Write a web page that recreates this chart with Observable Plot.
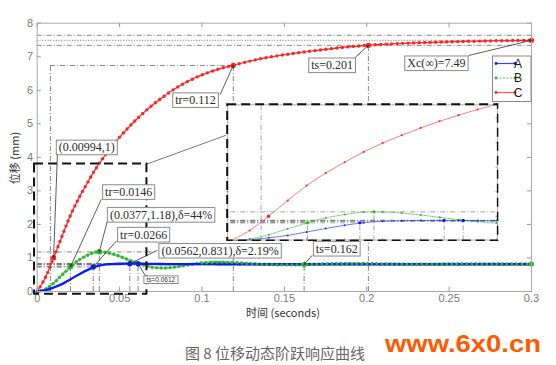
<!DOCTYPE html>
<html><head><meta charset="utf-8">
<script src="https://cdn.jsdelivr.net/npm/d3@7"></script>
<script src="https://cdn.jsdelivr.net/npm/@observablehq/plot@0.6"></script>
<style>
body{margin:0;background:#fff;}
</style></head><body><div id="wrap"></div>
<script>
// ---------- data ----------
const tGrid = [0,0.005,0.01,0.015,0.02,0.025,0.03,0.035,0.04,0.045,0.05,0.055,0.06,0.065,0.07,0.075,0.08,0.085,0.09,0.095,0.1,
  0.11,0.12,0.13,0.14,0.15,0.16,0.17,0.18,0.19,0.2,0.21,0.22,0.23,0.24,0.25,0.26,0.27,0.28,0.29,0.3];
const seriesA = [0,0.04,0.12,0.22,0.36,0.5,0.63,0.735,0.795,0.818,0.828,0.831,0.83,0.827,0.823,0.82,0.818,0.816,0.815,0.814,0.814,
  0.813,0.813,0.813,0.813,0.813,0.813,0.813,0.813,0.813,0.813,0.813,0.813,0.813,0.813,0.813,0.813,0.813,0.813,0.813,0.813];
const seriesB = [0,0.07,0.25,0.49,0.72,0.93,1.07,1.17,1.175,1.13,1.05,0.955,0.86,0.78,0.72,0.70,0.71,0.74,0.78,0.82,0.85,
  0.873,0.86,0.83,0.805,0.797,0.802,0.815,0.826,0.83,0.828,0.822,0.817,0.815,0.816,0.819,0.822,0.823,0.822,0.82,0.82];
const seriesC = [0,0.42,1.01,1.64,2.25,2.76,3.2,3.62,3.98,4.3,4.6,4.87,5.12,5.35,5.56,5.75,5.93,6.09,6.23,6.35,6.46,
  6.63,6.76,6.88,6.98,7.06,7.13,7.19,7.25,7.3,7.34,7.37,7.395,7.415,7.43,7.445,7.458,7.468,7.476,7.483,7.49];
const seriesNames = ["A","B","C"];
const seriesColors = {A:"#0a1aff", B:"#2fb52f", C:"#ff2222"};
const xTicks = [0,0.05,0.1,0.15,0.2,0.25,0.3];
const yTicks = [0,1,2,3,4,5,6,7,8];
const insetXTicks = [0.01,0.02,0.03,0.04,0.05,0.06,0.07];
const insetYTicks = [1,2,3,4,5];

// annotated points
const keyPoints = [
  {s:"C",t:0.00994,v:1},{s:"C",t:0.119,v:6.74},{s:"C",t:0.201,v:7.34},{s:"C",t:0.3,v:7.49},
  {s:"B",t:0.0202,v:0.738},{s:"B",t:0.0377,v:1.18},{s:"B",t:0.162,v:0.804},{s:"B",t:0.3,v:0.82},
  {s:"A",t:0.034,v:0.732},{s:"A",t:0.0562,v:0.831},{s:"A",t:0.0612,v:0.829}
];
// reference lines (dash-dot)
const hRefs = [
  {y:7.64,x1:0,x2:0.3,k:"dd"},{y:7.49,x1:0,x2:0.3,k:"dot"},{y:7.34,x1:0,x2:0.3,k:"dd"},
  {y:6.74,x1:0.008,x2:0.119,k:"dd"},
  {y:1.18,x1:0,x2:0.07,k:"dd"},
  {y:0.836,x1:0,x2:0.3,k:"dd"},{y:0.829,x1:0,x2:0.3,k:"dd"},{y:0.803,x1:0,x2:0.3,k:"dd"},{y:0.797,x1:0,x2:0.3,k:"dd"},
  {y:0.738,x1:0,x2:0.0202,k:"dd"},{y:0.732,x1:0,x2:0.034,k:"dd"}
];
const vRefs = [
  {x:0.008,y1:0,y2:6.74},{x:0.119,y1:0,y2:6.74},{x:0.201,y1:0,y2:7.34},
  {x:0.0056,y1:0,y2:0.082},{x:0.0074,y1:0,y2:0.081},
  {x:0.0202,y1:0,y2:0.738},{x:0.034,y1:0,y2:0.732},{x:0.0377,y1:0,y2:1.18},
  {x:0.0562,y1:0,y2:0.831},{x:0.0612,y1:0,y2:0.829},{x:0.162,y1:0,y2:0.804}
];
// text annotations: label centre (x,y), arrow start (sx,sy), arrow target (tx,ty)
const labels = [
  {text:"tr=0.112", x:0.0961, y:5.70, sx:0.1111, sy:5.88, tx:0.119, ty:6.74},
  {text:"ts=0.201", x:0.179, y:6.74, sx:0.193, sy:6.98, tx:0.201, ty:7.34},
  {text:"Xc(\u221e)=7.49", x:0.2423, y:6.80, sx:0.2622, sy:7.04, tx:0.3, ty:7.49},
  {text:"(0.00994,1)", x:0.0301, y:4.29, sx:0.0123, sy:4.13, tx:0.00994, ty:1},
  {text:"tr=0.0146", x:0.0555, y:2.96, sx:0.0388, sy:2.74, tx:0.0202, ty:0.738},
  {text:"(0.0377,1.18),\u03b4=44%", x:0.0752, y:2.28, sx:0.0424, sy:2.07, tx:0.0377, ty:1.18},
  {text:"tr=0.0266", x:0.0646, y:1.69, sx:0.048, sy:1.50, tx:0.034, ty:0.732},
  {text:"(0.0562,0.831),\u03b4=2.19%", x:0.111, y:1.21, sx:0.0727, sy:1.22, tx:0.0562, ty:0.831},
  {text:"ts=0.162", x:0.1818, y:1.27, sx:0.1667, sy:1.07, tx:0.162, ty:0.804}
];
const smallLabels = [
  {text:"ts=0.0612", x:0.075, y:0.34, sx:0.0656, sy:0.48, tx:0.0612, ty:0.829}
];
const zoomRegion = {x1:-0.0016, x2:0.0666, y1:-0.08, y2:3.8};
const insetPlace = {x1:0.1147, x2:0.2802, y1:1.49, y2:5.61};
const connector = {x1:0.0666, y1:3.8, x2:0.1147, y2:4.66};
const insetXDomain = [-0.0012, 0.0706];
const insetYDomain = [-0.03, 5.6];

// ---------- build ----------
const rows = arr => tGrid.map((t,i)=>({t, v: arr[i]}));
const data = {A: rows(seriesA), B: rows(seriesB), C: rows(seriesC)};
const grey = "#7a7a7a";

function refMarks(sw){
  return [
    Plot.ruleY(hRefs.filter(d=>d.k==="dd"), {y:"y", x1:"x1", x2:"x2", stroke:"#6a6a6a", strokeWidth:sw, strokeDasharray:"5,2,1,2"}),
    Plot.ruleY(hRefs.filter(d=>d.k==="dot"), {y:"y", x1:"x1", x2:"x2", stroke:"#6a6a6a", strokeWidth:sw, strokeDasharray:"1.2,1.5"}),
    Plot.ruleX(vRefs, {x:"x", y1:"y1", y2:"y2", stroke:"#6a6a6a", strokeWidth:sw, strokeDasharray:"5,2,1,2"})
  ];
}

const main = Plot.plot({
  width: 556, height: 365,
  marginLeft: 36.7, marginRight: 25, marginTop: 22.7, marginBottom: 74,
  style: {fontFamily: "Liberation Sans", fontSize: "11px", color: grey, background: "white"},
  x: {domain: [0, 0.3], ticks: xTicks, tickSize: 0, tickPadding: 3, tickFormat: d => String(d), label: null},
  y: {domain: [0, 8], ticks: yTicks, tickSize: 0, tickPadding: 4, label: null},
  marks: [
    ...refMarks(0.8),
    // C
    Plot.line(data.C, {x:"t", y:"v", stroke:seriesColors.C, strokeWidth:1.2, curve:"catmull-rom"}),
    Plot.line(data.C, {x:"t", y:"v", stroke:seriesColors.C, strokeWidth:3.4, strokeDasharray:"0,5.5", strokeLinecap:"round", curve:"catmull-rom"}),
    // B
    Plot.line(data.B, {x:"t", y:"v", stroke:"#7fd37f", strokeWidth:2, curve:"catmull-rom"}),
    Plot.line(data.B, {x:"t", y:"v", stroke:seriesColors.B, strokeWidth:3.4, strokeDasharray:"0,4.5", strokeLinecap:"round", curve:"catmull-rom"}),
    // A
    Plot.line(data.A, {x:"t", y:"v", stroke:seriesColors.A, strokeWidth:2.3, curve:"catmull-rom"}),
    Plot.line(data.B.filter(d=>d.t>=0.1), {x:"t", y:"v", stroke:seriesColors.B, strokeWidth:3, strokeDasharray:"0,5", strokeLinecap:"round", curve:"catmull-rom"}),
    // key points
    ...seriesNames.map(s => Plot.dot(keyPoints.filter(d=>d.s===s), {x:"t", y:"v", r:2.6, fill:seriesColors[s], stroke:"none"})),
    // inward ticks
    Plot.ruleX(xTicks, {x:d=>d, y1:0, y2:0.13, stroke:"#999"}),
    Plot.ruleX(xTicks, {x:d=>d, y1:8, y2:7.87, stroke:"#999"}),
    Plot.ruleY(yTicks, {y:d=>d, x1:0, x2:0.0025, stroke:"#999"}),
    Plot.ruleY(yTicks, {y:d=>d, x1:0.3, x2:0.2975, stroke:"#999"}),
    Plot.frame({stroke:"#a8a8a8"}),
    // zoom region & connector
    Plot.link([connector], {x1:"x1", y1:"y1", x2:"x2", y2:"y2", stroke:"#555", strokeWidth:0.8}),
    Plot.rect([zoomRegion], {x1:"x1", x2:"x2", y1:"y1", y2:"y2", fill:"none", stroke:"#111", strokeWidth:2, strokeDasharray:"9,5"}),
    // annotations
    Plot.arrow(labels, {x1:"sx", y1:"sy", x2:"tx", y2:"ty", stroke:"#333", strokeWidth:0.8, headLength:5}),
    Plot.arrow(smallLabels, {x1:"sx", y1:"sy", x2:"tx", y2:"ty", stroke:"#333", strokeWidth:0.8, headLength:5}),
    Plot.text(labels, {x:"x", y:"y", text:"text", fontFamily:"Liberation Serif", fontSize:12, fill:"#2a2a2a"}),
    Plot.text(smallLabels, {x:"x", y:"y", text:"text", fontFamily:"Liberation Sans", fontSize:6.5, fill:"#333"})
  ]
});

document.getElementById("wrap").appendChild(main);
const svg = d3.select(main);
const sx = main.scale("x"), sy = main.scale("y");

// boxes behind annotation texts (same transform as the text)
const annoTexts = new Set([...labels, ...smallLabels].map(d => d.text));
Array.from(main.querySelectorAll("text")).forEach(t => {
  if (!annoTexts.has(t.textContent)) return;
  const b = t.getBBox();
  const r = document.createElementNS("http://www.w3.org/2000/svg","rect");
  r.setAttribute("x", b.x - 2.5); r.setAttribute("y", b.y - 0.3);
  r.setAttribute("width", b.width + 5); r.setAttribute("height", b.height + 0.6);
  const tr = t.getAttribute("transform"); if (tr) r.setAttribute("transform", tr);
  r.setAttribute("fill", "white"); r.setAttribute("stroke", "#8a8a8a"); r.setAttribute("stroke-width", "1");
  t.parentNode.insertBefore(r, t);
});

// ---------- inset ----------
const ix0 = sx.apply(insetPlace.x1), ix1 = sx.apply(insetPlace.x2);
const iy0 = sy.apply(insetPlace.y2), iy1 = sy.apply(insetPlace.y1);
const W = ix1 - ix0, H = iy1 - iy0;
const inset = Plot.plot({
  width: W, height: H, margin: 0,
  x: {domain: insetXDomain, axis: null},
  y: {domain: insetYDomain, axis: null},
  marks: [
    Plot.frame({fill:"white", stroke:"none"}),
    ...refMarks(0.6),
    Plot.line(data.C, {x:"t", y:"v", stroke:"#ff5a5a", strokeWidth:0.8, curve:"catmull-rom"}),
    Plot.dot(data.C, {x:"t", y:"v", r:1.1, fill:"#ff2a2a"}),
    Plot.line(data.B, {x:"t", y:"v", stroke:"#45c045", strokeWidth:0.8, strokeDasharray:"1.5,1.2", curve:"catmull-rom"}),
    Plot.dot(data.B, {x:"t", y:"v", r:1, fill:"#2fb52f"}),
    Plot.line(data.A, {x:"t", y:"v", stroke:"#3040ff", strokeWidth:0.8, strokeDasharray:"2,1", curve:"catmull-rom"}),
    Plot.dot(data.A, {x:"t", y:"v", r:1, fill:"#1a2aff"}),
    ...seriesNames.map(s => Plot.dot(keyPoints.filter(d=>d.s===s), {x:"t", y:"v", r:1.7, fill:seriesColors[s]})),
    Plot.ruleX(insetXTicks, {x:d=>d, y1:insetYDomain[0], y2:insetYDomain[0]+0.12, stroke:"#aaa"}),
    Plot.ruleX(insetXTicks, {x:d=>d, y1:insetYDomain[1], y2:insetYDomain[1]-0.12, stroke:"#aaa"}),
    Plot.ruleY(insetYTicks, {y:d=>d, x1:insetXDomain[0], x2:insetXDomain[0]+0.0008, stroke:"#aaa"}),
    Plot.ruleY(insetYTicks, {y:d=>d, x1:insetXDomain[1], x2:insetXDomain[1]-0.0008, stroke:"#aaa"}),
    Plot.frame({stroke:"#b0b0b0", inset:1.5}),
    Plot.frame({stroke:"#111", strokeWidth:2, strokeDasharray:"9,5", inset:1})
  ]
});
inset.setAttribute("x", ix0); inset.setAttribute("y", iy0);
inset.style.width = W + "px"; inset.style.height = H + "px";
inset.style.overflow = "hidden"; inset.style.maxWidth = "none";
main.appendChild(inset);

// ---------- legend ----------
const lg = svg.append("g");
const lx0 = 492.5, ly0 = 56, lw = 38.5, lh = 45.5;
lg.append("rect").attr("x", lx0).attr("y", ly0).attr("width", lw).attr("height", lh)
  .attr("fill","white").attr("stroke","#8a8a8a");
const legStyle = {A:{c:"#3344ff", d:null}, B:{c:"#55c855", d:"2,1.5"}, C:{c:"#ff5555", d:null}};
seriesNames.forEach((s,i) => {
  const yy = ly0 + 7.5 + i*14.5;
  lg.append("line").attr("x1", lx0+3.5).attr("x2", lx0+22.5).attr("y1", yy).attr("y2", yy)
    .attr("stroke", legStyle[s].c).attr("stroke-width", 1.2).attr("stroke-dasharray", legStyle[s].d);
  [lx0+3.5, lx0+22.5].forEach(x => lg.append("circle").attr("cx", x).attr("cy", yy).attr("r", 1.4).attr("fill", seriesColors[s]));
  lg.append("text").attr("x", lx0+25.5).attr("y", yy+4.3).text(s)
    .attr("font-family","Liberation Sans").attr("font-size", 12).attr("fill","#1a1a1a");
});

// ---------- axis titles, caption, watermark ----------
svg.append("text").attr("transform", "translate(19,158) rotate(-90)").attr("text-anchor","middle")
  .attr("font-family","Noto Sans CJK SC").attr("font-size", 11).attr("fill","#333").text("位移 (mm)");
svg.append("text").attr("x", 283).attr("y", 316.5).attr("text-anchor","middle")
  .attr("font-family","Noto Sans CJK SC").attr("font-size", 11).attr("fill","#333").text("时间 (seconds)");
svg.append("text").attr("x", 275).attr("y", 358.5).attr("text-anchor","middle")
  .attr("font-family","Noto Sans CJK SC").attr("font-size", 15).attr("fill","#666").text("图 8 位移动态阶跃响应曲线");
svg.append("text").attr("x", 463).attr("y", 352).attr("text-anchor","middle").attr("textLength", 156).attr("lengthAdjust","spacingAndGlyphs")
  .attr("font-family","Liberation Sans").attr("font-weight","bold").attr("font-size", 24).attr("fill","#ff5a00").text("www.6x0.cn");
</script>
</body></html>
